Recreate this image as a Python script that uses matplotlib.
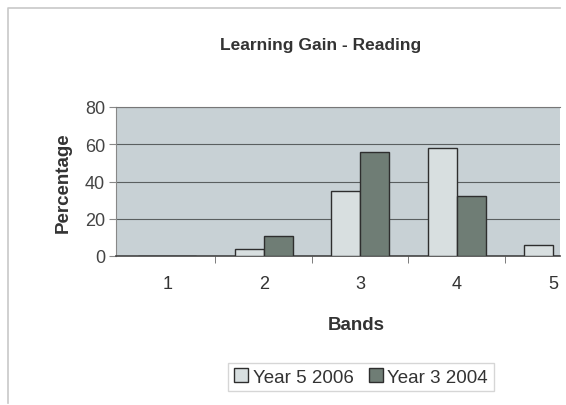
import matplotlib.pyplot as plt
import matplotlib.lines as mlines
import numpy as np

plt.rcParams['font.family'] = ['Liberation Sans', 'DejaVu Sans']

bands = [1, 2, 3, 4, 5]
year5_2006 = [0, 4, 35, 58, 6]
year3_2004 = [0, 11, 56, 32, 0]
yticks = [0, 20, 40, 60, 80]

fig = plt.figure(figsize=(5.66, 4.06), dpi=100)
# outer chart border (only top and left visible in the scan)
fig.lines.append(mlines.Line2D([8 / 566, 8 / 566, 560 / 566], [2 / 406, 1 - 9 / 406, 1 - 9 / 406],
                               transform=fig.transFigure, color='#c8c8c8', linewidth=1.2))

ax = fig.add_axes([116 / 566, 1 - 257 / 406, 444 / 566, 149 / 406])
ax.set_facecolor('#c8d1d5')

x = np.array(bands, dtype=float)
w = 0.3
ax.bar(x - w / 2, year5_2006, w, color='#d8dfe0', edgecolor='#2e2e2e',
       linewidth=1.0, label='Year 5 2006', zorder=3)
ax.bar(x + w / 2, year3_2004, w, color='#6f7d75', edgecolor='#2e2e2e',
       linewidth=1.0, label='Year 3 2004', zorder=3)

ax.set_xlim(0.47, 5.07)
ax.set_ylim(0, 80)
ax.set_yticks(yticks)
ax.set_xticks(bands)
ax.set_xticks(np.arange(1.5, 5.5, 1), minor=True)
ax.tick_params(axis='x', which='major', length=0, pad=14, labelsize=13, labelcolor='#333333')
ax.tick_params(axis='x', which='minor', length=5, color='#666666', direction='out')
ax.tick_params(axis='y', length=5, color='#888888', labelsize=13, labelcolor='#444444', pad=3)
ax.grid(axis='y', color='#5a5f60', linewidth=0.8, zorder=1)

ax.spines['right'].set_visible(False)
ax.spines['top'].set_color('#777777')
ax.spines['left'].set_color('#888888')
ax.spines['bottom'].set_color('#444444')
ax.spines['bottom'].set_linewidth(1.2)

ax.set_title('Learning Gain - Reading', fontsize=12.5, fontweight='bold',
             color='#333333', pad=42, x=0.46)
ax.set_ylabel('Percentage', fontsize=13.5, fontweight='bold', color='#333333')
ax.yaxis.set_label_coords(-0.10, 0.5)
ax.set_xlabel('Bands', fontsize=13.5, fontweight='bold', color='#333333')
ax.xaxis.set_label_coords(0.54, -0.40)

leg = fig.legend(loc='center', bbox_to_anchor=(361 / 566, 1 - 378 / 406), ncol=2,
                 fontsize=13.5, frameon=True, fancybox=False, edgecolor='#cccccc',
                 handlelength=0.75, handleheight=0.75, handletextpad=0.25,
                 columnspacing=0.8, borderpad=0.3)
for t in leg.get_texts():
    t.set_color('#333333')

plt.savefig('out.png', dpi=100)
